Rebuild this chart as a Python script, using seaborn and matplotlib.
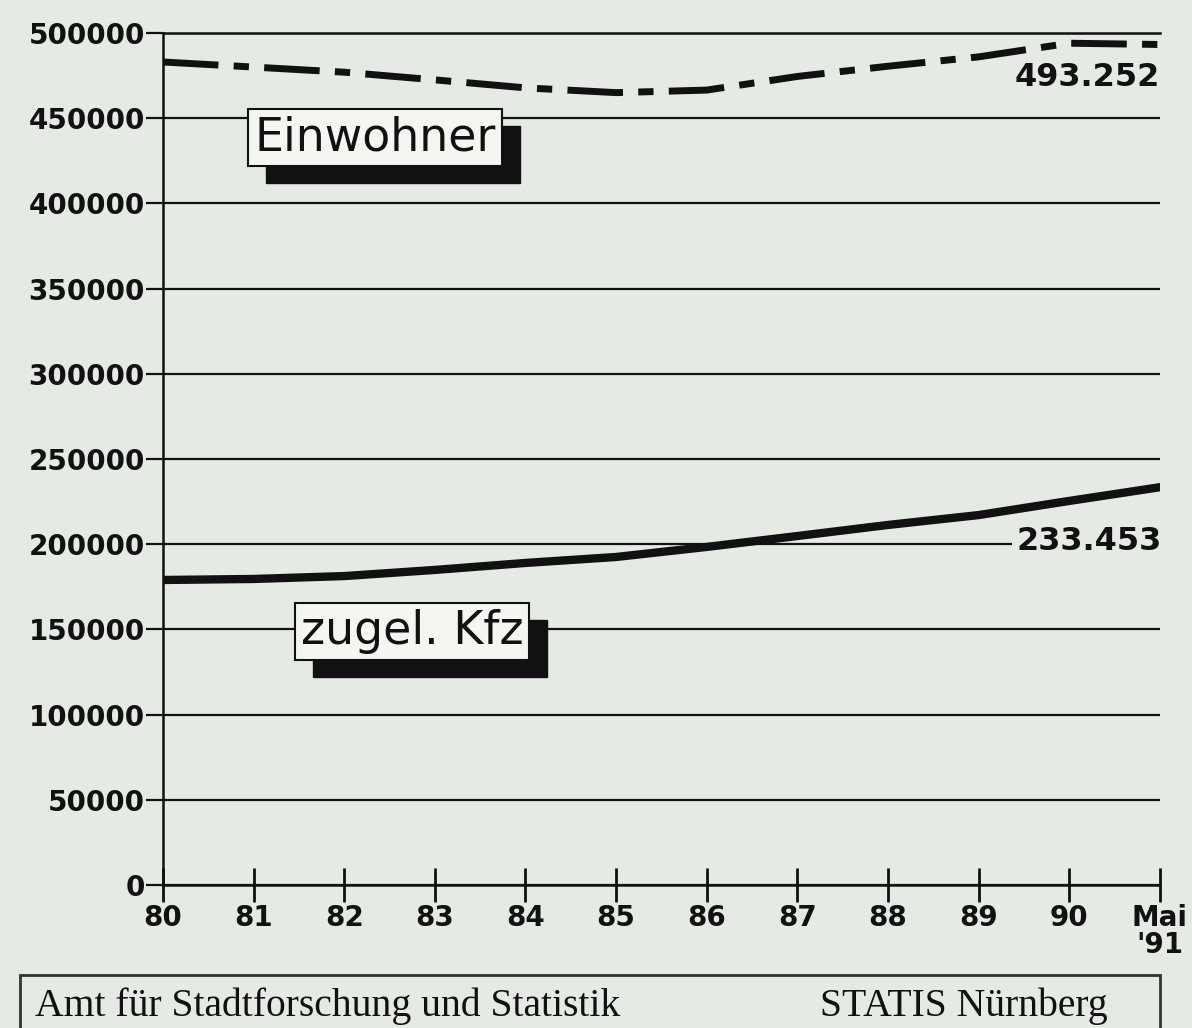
import numpy as np
import pandas as pd
import matplotlib
matplotlib.use('Agg')
import matplotlib.pyplot as plt
from matplotlib.patches import Rectangle
import seaborn as sns

# ===============================
# Data
# ===============================
jahre = ['80', '81', '82', '83', '84', '85', '86', '87', '88', '89', '90', "Mai\n'91"]
einwohner = [483000, 480000, 477000, 472500, 467800, 465000, 466500,
             474500, 480500, 486000, 494000, 493252]
kfz = [179000, 179600, 181300, 184900, 189000, 192500, 198400,
       204800, 211300, 217100, 225400, 233453]

df = pd.DataFrame({'pos': np.arange(len(jahre)),
                   'Einwohner': einwohner,
                   'Kfz': kfz})

bg = '#e6eae5'
ink = '#111111'

sns.set_theme(style='white')
plt.rcParams['font.family'] = ['DejaVu Sans']

fig = plt.figure(figsize=(11.92, 10.28), dpi=100, facecolor=bg)
ax = fig.add_axes([0.1367, 0.1391, 0.8364, 0.8288])
ax.set_facecolor(bg)

# ===============================
# Lines
# ===============================
sns.lineplot(data=df, x='pos', y='Einwohner', ax=ax, color=ink, lw=5)
ax.lines[-1].set_dashes((8, 2.2, 2.2, 2.2))
ax.lines[-1].set_dash_capstyle('butt')
sns.lineplot(data=df, x='pos', y='Kfz', ax=ax, color=ink, lw=6)

# ===============================
# Axes styling
# ===============================
ax.set_xlim(0, len(jahre) - 1)
ax.set_ylim(0, 500000)
ax.set_yticks(np.arange(0, 500001, 50000))
ax.set_yticklabels([str(v) for v in range(0, 500001, 50000)])
ax.set_xticks(df['pos'])
ax.set_xticklabels(jahre, linespacing=0.95)
ax.set_xlabel('')
ax.set_ylabel('')

ax.grid(axis='y', color=ink, lw=1.6)
ax.grid(axis='x', visible=False)
ax.set_axisbelow(True)
ax.spines['right'].set_visible(False)
for side in ['left', 'bottom', 'top']:
    ax.spines[side].set_color(ink)
    ax.spines[side].set_linewidth(1.8)

ax.tick_params(axis='y', direction='out', length=12, width=1.6, color=ink,
               labelsize=20, labelcolor=ink, pad=1, left=True)
ax.tick_params(axis='x', direction='inout', length=24, width=2, color=ink,
               labelsize=20, labelcolor=ink, pad=2, bottom=True)
for lab in ax.get_yticklabels() + ax.get_xticklabels():
    lab.set_fontweight('bold')

# ===============================
# Series labels with shadow boxes
# ===============================
schilder = []
for x, y, text in [(2.34, 438500, 'Einwohner'), (2.75, 149000, 'zugel. Kfz')]:
    t = ax.text(x, y, text, fontsize=33, color=ink, ha='center', va='center',
                zorder=5,
                bbox=dict(boxstyle='square,pad=0.13', fc='#f4f6f2', ec=ink, lw=1.5))
    schilder.append(t)

fig.canvas.draw()
W, H = fig.bbox.width, fig.bbox.height
for t in schilder:
    bb = t.get_bbox_patch().get_window_extent()
    dx, dy = 18, -17
    fig.patches.append(Rectangle(((bb.x0 + dx) / W, (bb.y0 + dy) / H),
                                 bb.width / W, bb.height / H,
                                 transform=fig.transFigure, fc=ink, ec=ink,
                                 zorder=0))
    # keep the shadow under the white box
    ax.set_zorder(1)
    ax.patch.set_alpha(0)

ax.text(11, 473600, '493.252', fontsize=23, fontweight='bold', color=ink,
        ha='right', va='center', zorder=6)
ax.text(11.02, 201300, '233.453', fontsize=23, fontweight='bold', color=ink,
        ha='right', va='center', zorder=6,
        bbox=dict(boxstyle='square,pad=0.15', fc=bg, ec='none'))

# ===============================
# Footer
# ===============================
fig.patches.append(Rectangle((20 / 1192, -0.05), 1140 / 1192, 0.05 + 0.0516,
                             transform=fig.transFigure, fill=False,
                             ec='#333333', lw=2))
fig.text(35 / 1192, 0.021, 'Amt für Stadtforschung und Statistik',
         family='Liberation Serif', fontsize=28.5, color=ink, va='center')
fig.text(820 / 1192, 0.021, 'STATIS Nürnberg',
         family='Liberation Serif', fontsize=28.5, color=ink, va='center')

fig.savefig('out.png', dpi=100, facecolor=bg)
plt.close(fig)
